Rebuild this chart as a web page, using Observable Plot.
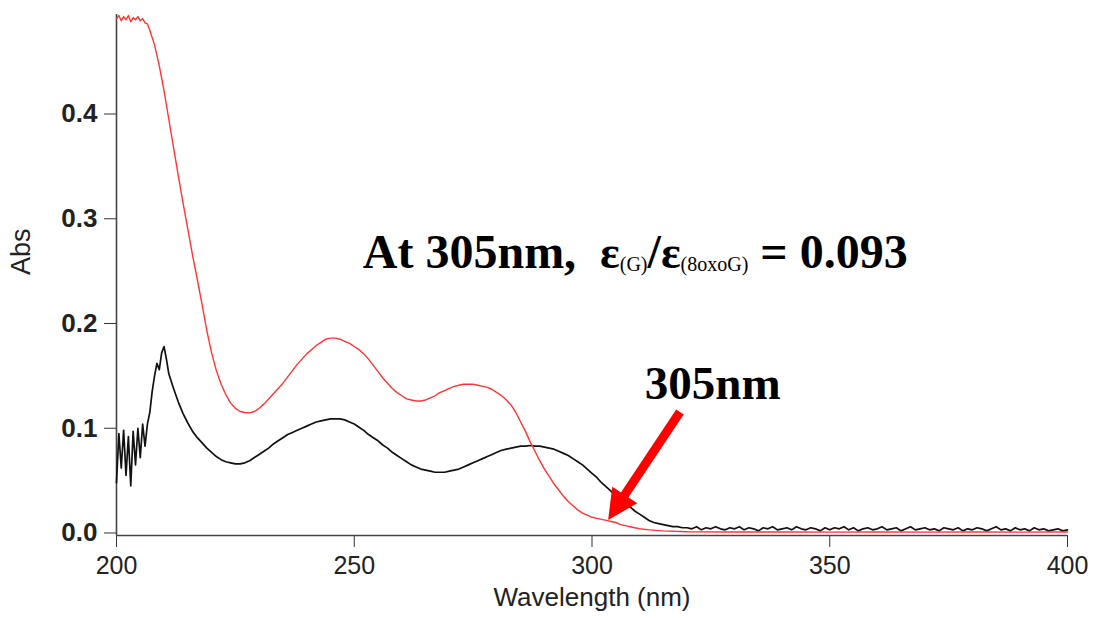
<!DOCTYPE html>
<html><head><meta charset="utf-8">
<script src="https://cdn.jsdelivr.net/npm/d3@7"></script>
<script src="https://cdn.jsdelivr.net/npm/@observablehq/plot@0.6"></script>
<style>
html,body{margin:0;padding:0;background:#fff;}
#chart svg{display:block;}
</style></head><body><div id="chart"></div>
<script>
// ---------- data ----------
// Red spectrum (8-oxoG): sampling grid (nm) and absorbance
const wlRed = [].concat(d3.range(200, 207, 0.5), d3.range(207, 311, 1), [312, 315, 320, 330, 340, 350, 360, 370, 380, 390, 400]);
const absRed = [
  0.491,0.494,0.489,0.493,0.490,0.494,0.488,0.492,0.490,0.493,0.489,0.491,0.487,0.486,
  0.480,0.466,0.446,0.422,0.395,0.368,0.341,0.315,0.290,0.265,
  0.242,0.218,0.193,0.172,0.155,0.142,0.132,0.124,0.119,0.116,
  0.115,0.1147,0.116,0.119,0.123,0.128,0.133,0.138,0.143,0.149,
  0.155,0.161,0.166,0.171,0.175,0.179,0.182,0.185,0.186,0.186,
  0.185,0.183,0.181,0.178,0.175,0.171,0.166,0.160,0.154,0.148,
  0.143,0.138,0.134,0.131,0.128,0.127,0.126,0.126,0.127,0.129,
  0.131,0.134,0.136,0.138,0.140,0.141,0.142,0.142,0.142,0.141,
  0.140,0.139,0.137,0.134,0.131,0.127,0.122,0.115,0.106,0.097,
  0.087,0.078,0.069,0.061,0.054,0.047,0.041,0.035,0.030,0.026,
  0.022,0.019,0.017,0.015,0.014,0.013,0.012,0.011,0.010,0.008,
  0.007,0.006,0.005,0.004,
  0.003,0.002,0.0012,0.001,0.001,0.0008,0.001,0.0008,0.001,0.0008,0.001
];
// Black spectrum (G)
const wlBlack = [].concat(d3.range(200, 211, 0.5), d3.range(211, 320, 1), d3.range(320, 401, 1));
const absBlack = [
  0.048,0.095,0.062,0.098,0.055,0.092,0.045,0.097,0.065,0.100,0.072,0.104,0.083,0.104,0.115,0.135,0.150,0.162,0.156,0.172,0.178,0.166,
  0.152,0.138,0.125,0.114,0.105,0.097,0.091,0.086,0.081,0.077,
  0.073,0.070,0.068,0.067,0.066,0.066,0.067,0.069,0.072,0.075,
  0.078,0.081,0.085,0.088,0.091,0.094,0.096,0.098,0.100,0.102,
  0.104,0.106,0.107,0.108,0.109,0.109,0.109,0.108,0.106,0.104,
  0.101,0.098,0.094,0.091,0.088,0.084,0.081,0.077,0.074,0.071,
  0.068,0.065,0.063,0.061,0.060,0.059,0.058,0.058,0.058,0.059,
  0.060,0.061,0.063,0.065,0.067,0.069,0.071,0.073,0.075,0.077,
  0.079,0.080,0.081,0.082,0.083,0.083,0.0835,0.083,0.083,0.082,
  0.081,0.080,0.078,0.076,0.074,0.071,0.068,0.065,0.061,0.057,
  0.053,0.048,0.044,0.040,0.035,0.031,0.028,0.025,0.021,0.018,
  0.015,0.012,0.010,0.009,0.008,0.007,0.006,0.006,0.005,
  0.005,0.004,0.006,0.003,0.005,0.004,0.006,0.004,0.003,0.005,
  0.004,0.006,0.003,0.005,0.004,0.002,0.005,0.004,0.006,0.003,
  0.004,0.005,0.003,0.006,0.004,0.003,0.005,0.004,0.002,0.005,
  0.003,0.005,0.004,0.006,0.003,0.005,0.002,0.004,0.005,0.003,
  0.004,0.006,0.003,0.004,0.005,0.002,0.004,0.006,0.003,0.004,
  0.005,0.003,0.004,0.002,0.005,0.004,0.003,0.005,0.002,0.004,
  0.003,0.005,0.004,0.002,0.004,0.006,0.003,0.004,0.002,0.005,
  0.003,0.004,0.002,0.005,0.003,0.004,0.002,0.003,0.004,0.002,0.003
];
// Axes
const xTicks = [200, 250, 300, 350, 400];
const yTicks = [0, 0.1, 0.2, 0.3, 0.4];
const xDomain = [200, 400];
const yDomain = [-0.0024, 0.495];
const xLabel = "Wavelength (nm)";
const yLabel = "Abs";
// Annotations (data coordinates)
const notePieces = ["At 305nm,  ", "ε", "(G)", "/", "ε", "(8oxoG)", " = 0.093"];
const noteAt = [251.9, 0.2524];
const peakText = "305nm";
const peakAt = [311.2, 0.1274];
const arrowFrom = [318.6, 0.115];
const arrowTo = [303.5, 0.012];

const red = d3.range(wlRed.length).map(i => ({wl: wlRed[i], a: absRed[i]}));
const black = d3.range(wlBlack.length).map(i => ({wl: wlBlack[i], a: absBlack[i]}));

const ns = "http://www.w3.org/2000/svg";
function el(name, attrs) {
  const e = document.createElementNS(ns, name);
  for (const k in attrs) e.setAttribute(k, attrs[k]);
  return e;
}

const annotations = (index, scales, values, dimensions) => {
  let sx = scales && typeof scales.x === "function" ? scales.x : null;
  let sy = scales && typeof scales.y === "function" ? scales.y : null;
  if (!sx) sx = d3.scaleLinear(xDomain, [dimensions.marginLeft, dimensions.width - dimensions.marginRight]);
  if (!sy) sy = d3.scaleLinear(yDomain, [dimensions.height - dimensions.marginBottom, dimensions.marginTop]);
  const g = el("g", {"text-anchor": "start"});
  const serif = "'Liberation Serif','Times New Roman',serif";
  // main note
  const t = el("text", {x: sx(noteAt[0]), y: sy(noteAt[1]), "text-anchor": "start", "font-family": serif, "font-weight": "bold", "font-size": 48, fill: "#000", style: "white-space:pre"});
  const styles = [
    {size: 48, weight: "bold", shift: 0},
    {size: 46, weight: "bold", shift: 0},
    {size: 20, weight: "normal", shift: 3},
    {size: 48, weight: "bold", shift: 0},
    {size: 46, weight: "bold", shift: 0},
    {size: 20, weight: "normal", shift: 3},
    {size: 48, weight: "bold", shift: 0}
  ];
  let prevShift = 0;
  notePieces.forEach((p, i) => {
    const s = styles[i];
    const ts = el("tspan", {"font-size": s.size, "font-weight": s.weight, dy: s.shift - prevShift});
    prevShift = s.shift;
    ts.textContent = p;
    t.appendChild(ts);
  });
  g.appendChild(t);
  // 305nm label
  const t2 = el("text", {x: sx(peakAt[0]), y: sy(peakAt[1]), "text-anchor": "start", "font-family": serif, "font-weight": "bold", "font-size": 47, fill: "#000"});
  t2.textContent = peakText;
  g.appendChild(t2);
  // arrow
  const x1 = sx(arrowFrom[0]), y1 = sy(arrowFrom[1]), x2 = sx(arrowTo[0]), y2 = sy(arrowTo[1]);
  const L = Math.hypot(x2 - x1, y2 - y1), ux = (x2 - x1) / L, uy = (y2 - y1) / L;
  const headL = 30, headW = 15;
  const bx = x2 - ux * headL, by = y2 - uy * headL;
  g.appendChild(el("line", {x1, y1, x2: bx + ux * 2, y2: by + uy * 2, stroke: "#ff0000", "stroke-width": 9}));
  g.appendChild(el("polygon", {points: `${x2},${y2} ${bx - uy * headW},${by + ux * headW} ${bx + uy * headW},${by - ux * headW}`, fill: "#ff0000"}));
  return g;
};

const chart = Plot.plot({
  width: 1094,
  height: 619,
  marginLeft: 116,
  marginRight: 27,
  marginTop: 14,
  marginBottom: 84,
  style: {fontFamily: "'Liberation Sans', Arial, sans-serif", background: "#fff", color: "#222", overflow: "visible"},
  x: {domain: xDomain, label: null},
  y: {domain: yDomain, label: null},
  marks: [
    Plot.axisY({ticks: yTicks, tickSize: 12, tickPadding: 7, tickFormat: d3.format(".1f"), fontSize: 26, fontWeight: "bold", label: null, stroke: "#333", fill: "#222"}),
    Plot.axisX({ticks: xTicks, tickSize: 12, tickPadding: 9, fontSize: 25, label: null, stroke: "#333", fill: "#222"}),
    Plot.ruleX([xDomain[0]], {y1: yDomain[0], y2: yDomain[1], stroke: "#444", strokeWidth: 1.6}),
    Plot.ruleY([yDomain[0]], {x1: xDomain[0], x2: xDomain[1], stroke: "#444", strokeWidth: 1.6}),
    Plot.text([yLabel], {frameAnchor: "left", dx: -95, rotate: -90, fontSize: 27, fill: "#222", text: d => d}),
    Plot.text([xLabel], {frameAnchor: "bottom", dy: 70, fontSize: 26, fill: "#222", text: d => d}),
    Plot.line(black, {x: "wl", y: "a", stroke: "#111", strokeWidth: 1.7}),
    Plot.line(red, {x: "wl", y: "a", stroke: "#ff3535", strokeWidth: 1.4}),
    annotations
  ]
});
document.getElementById("chart").appendChild(chart);
</script>
</body></html>
